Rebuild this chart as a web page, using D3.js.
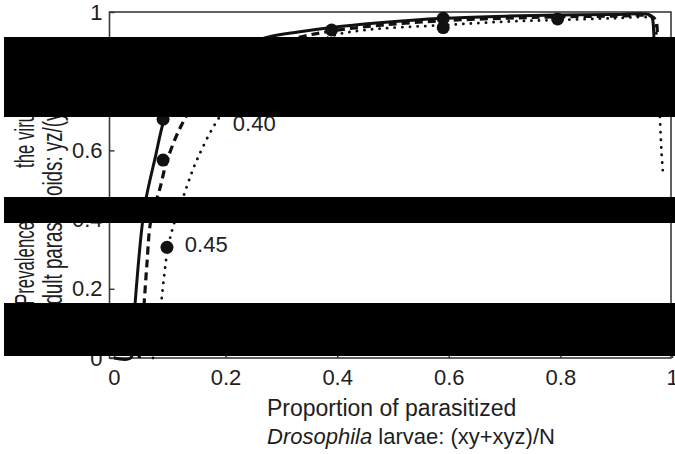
<!DOCTYPE html>
<html>
<head>
<meta charset="utf-8">
<script src="https://cdnjs.cloudflare.com/ajax/libs/d3/7.8.5/d3.min.js"></script>
<style>
body{margin:0;background:#fff;}
text{font-family:"Liberation Sans",Arial,Helvetica,sans-serif;fill:#1e1e1e;}
</style>
</head>
<body>
<div id="chart"></div>
<script>
//tick values on both axes
var xTicks = [0,0.2,0.4,0.6,0.8,1];
var yTicks = [0,0.2,0.4,0.6,0.8,1];

//the three curves
var curveNames = ["0.35","0.40","0.45"];
var solidPts = [[0,0],[0.03,0],[0.034,0.06],[0.038,0.16],[0.051,0.39],[0.058,0.465],[0.074,0.58],[0.09,0.69],
  [0.11,0.77],[0.14,0.83],[0.18,0.875],[0.23,0.905],[0.277,0.928],[0.33,0.942],[0.39,0.955],[0.47,0.968],
  [0.59,0.982],[0.7,0.988],[0.795,0.991],[0.9,0.993],[0.958,0.993],[0.964,0.985],[0.967,0.95],[0.968,0.85],[0.968,0.78]];
var dashedPts = [[0.045,0],[0.05,0.06],[0.054,0.156],[0.059,0.27],[0.065,0.387],[0.073,0.44],[0.082,0.488],
  [0.095,0.57],[0.12,0.67],[0.15,0.75],[0.2,0.83],[0.26,0.885],[0.32,0.922],[0.39,0.945],[0.48,0.962],
  [0.59,0.975],[0.7,0.982],[0.795,0.986],[0.9,0.988],[0.963,0.988],[0.971,0.975],[0.974,0.93],[0.975,0.8],[0.975,0.72]];
var dottedPts = [[0.07,0],[0.078,0.06],[0.085,0.165],[0.097,0.32],[0.108,0.39],[0.124,0.465],[0.148,0.57],
  [0.189,0.696],[0.23,0.77],[0.28,0.83],[0.33,0.88],[0.39,0.93],[0.45,0.948],[0.59,0.962],[0.7,0.972],
  [0.795,0.977],[0.9,0.982],[0.958,0.984],[0.968,0.975],[0.973,0.9],[0.977,0.75],[0.981,0.6],[0.984,0.53]];

//black dots on the curves
var dotX = [0.088,0.088,0.095,0.39,0.59,0.59,0.795];
var dotY = [0.69,0.572,0.32,0.948,0.982,0.955,0.98];

//curve labels (left end, baseline) in data units
var labelX = [0.14,0.213,0.127];
var labelY = [0.80,0.656,0.306];

//y title (two lines, each in two pieces) and x title
var yTitle1 = ["Prevalence of","the virus in the"];
var yTitle2 = ["adult parasit","oids: yz/(y+yz)"];
var xTitle1 = "Proportion of parasitized";
var xTitle2a = "Drosophila";
var xTitle2b = " larvae: (xy+xyz)/N";

var W = 675, H = 454;
var plotL = 109.5, plotR = 671, plotT = 12, plotB = 358;

var svg = d3.select("#chart")
.append("svg")
.attr("width", W)
.attr("height", H)
.style("background","#fff");

var x = d3.scaleLinear()
.domain([-0.008,1])
.range([plotL,plotR+1]);

var y = d3.scaleLinear()
.domain([0,1])
.range([plotB,plotT]);

//frame
svg.append("rect")
.attr("x", plotL)
.attr("y", plotT)
.attr("width", plotR-plotL)
.attr("height", plotB-plotT)
.attr("fill","none")
.attr("stroke","#3a3a3a")
.attr("stroke-width",1.6);

//add X
var gx = svg.append("g")
.attr("transform","translate(0,"+plotB+")")
.call(d3.axisBottom(x).tickValues(xTicks).tickFormat(d3.format("~g")).tickSizeInner(-5).tickSizeOuter(0).tickPadding(11));
gx.select(".domain").remove();
gx.selectAll("line").attr("stroke","#333").attr("stroke-width",1.4);
gx.selectAll("text").style("font-size","22px").attr("fill","#1e1e1e");

//add y
var gy = svg.append("g")
.attr("transform","translate("+plotL+",0)")
.call(d3.axisLeft(y).tickValues(yTicks).tickFormat(d3.format("~g")).tickSizeInner(-5).tickSizeOuter(0).tickPadding(7));
gy.select(".domain").remove();
gy.selectAll("line").attr("stroke","#333").attr("stroke-width",1.4);
gy.selectAll("text").style("font-size","22px").attr("fill","#1e1e1e");

//the curves
var line = d3.line()
.x(function(d){return x(d[0])})
.y(function(d){return y(d[1])})
.curve(d3.curveCatmullRom.alpha(0.5));

var series = [
  {pts: solidPts, dash: null, width: 3, cap: "butt"},
  {pts: dashedPts, dash: "8,5", width: 3.2, cap: "butt"},
  {pts: dottedPts, dash: "0.1,7.5", width: 2.8, cap: "round"}
];

svg.append("g")
.selectAll("path")
.data(series)
.enter()
.append("path")
.attr("d", function(d){return line(d.pts)})
.attr("fill","none")
.attr("stroke","#111")
.attr("stroke-width", function(d){return d.width})
.attr("stroke-dasharray", function(d){return d.dash})
.attr("stroke-linecap", function(d){return d.cap});

//dots
svg.append("g")
.selectAll("circle")
.data(dotX)
.enter()
.append("circle")
.attr("cx", function(d){return x(d)})
.attr("cy", function(d,i){return y(dotY[i])})
.attr("r", 6.5)
.attr("fill","#111");

//curve labels
svg.append("g")
.selectAll("text")
.data(curveNames)
.enter()
.append("text")
.text(function(d){return d})
.attr("x", function(d,i){return x(labelX[i])})
.attr("y", function(d,i){return y(labelY[i])})
.style("font-size","22px");

//titles
var labels = svg.append("g");

labels.append("text")
.text(xTitle1)
.attr("x", 267)
.attr("y", 416)
.style("font-size","23px");

var t2 = labels.append("text")
.attr("x", 267)
.attr("y", 444)
.style("font-size","22px");
t2.append("tspan").text(xTitle2a).style("font-style","italic");
t2.append("tspan").text(xTitle2b);

//y title, rotated and narrow along the line
var yt1 = labels.append("text")
.attr("transform","translate(34,305) rotate(-90) scale(0.6,1)")
.style("font-size","28px");
yt1.append("tspan").text(yTitle1[0]);
yt1.append("tspan").attr("x",(305-168)/0.6).text(yTitle1[1]);

var yt2 = labels.append("text")
.attr("transform","translate(62,315) rotate(-90) scale(0.67,1)")
.style("font-size","28px");
yt2.append("tspan").text(yTitle2[0]);
yt2.append("tspan").attr("x",(315-196)/0.67).text(yTitle2[1]);

//black boxes over the picture
var boxTop = [37,197,303];
var boxBottom = [117,223,356];
svg.append("g")
.selectAll("rect")
.data(boxTop)
.enter()
.append("rect")
.attr("x", 4)
.attr("y", function(d){return d})
.attr("width", W-4)
.attr("height", function(d,i){return boxBottom[i]-d})
.attr("fill","#000");
</script>
</body>
</html>
